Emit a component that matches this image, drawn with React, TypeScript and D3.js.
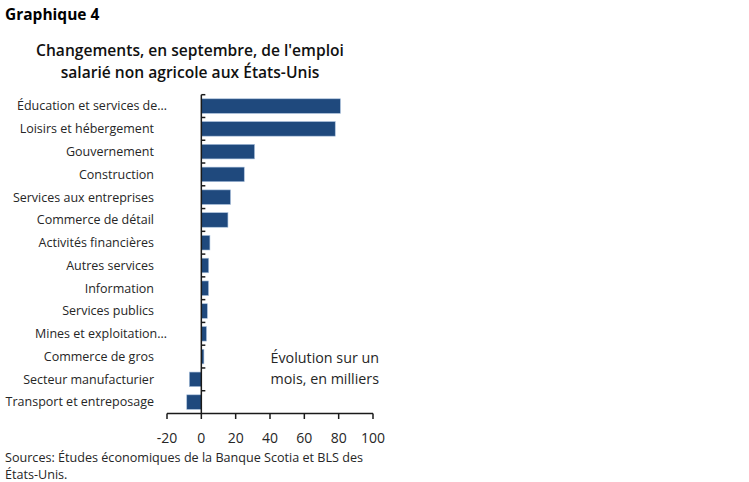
import { useEffect, useRef } from 'react'
import * as d3 from 'd3'

const categories = [
  'Éducation et services de…',
  'Loisirs et hébergement',
  'Gouvernement',
  'Construction',
  'Services aux entreprises',
  'Commerce de détail',
  'Activités financières',
  'Autres services',
  'Information',
  'Services publics',
  'Mines et exploitation…',
  'Commerce de gros',
  'Secteur manufacturier',
  'Transport et entreposage',
]

// monthly change, thousands
const values = [81, 78, 31, 25, 17, 15.5, 5, 4.3, 4.2, 3.5, 3, 1.5, -7, -8.5]

const xTicks = [-20, 0, 20, 40, 60, 80, 100]

const titleLines = ["Changements, en septembre, de l'emploi", 'salarié non agricole aux États-Unis']
const noteLines = ['Évolution sur un', 'mois, en milliers']
const sourceLines = ['Sources: Études économiques de la Banque Scotia et BLS des', 'États-Unis.']

const FONT = '"Open Sans", "Noto Sans", sans-serif'
const BAR = '#1f497d'
const TEXT = '#262626'

export default function App() {
  const svgRef = useRef<SVGSVGElement | null>(null)

  useEffect(() => {
    const svgEl = svgRef.current
    if (!svgEl) return
    const svg = d3.select(svgEl)
    svg.selectAll('*').remove()

    const x = d3.scaleLinear().domain([-20, 100]).range([167, 373])
    const y = d3.scaleBand<string>().domain(categories).range([94.7, 413.5]).paddingInner(0.36).paddingOuter(0.18)

    // header
    svg
      .append('text')
      .attr('x', 5)
      .attr('y', 20)
      .attr('font-family', FONT)
      .attr('font-weight', 700)
      .attr('font-size', 15.5)
      .attr('fill', '#000')
      .text('Graphique 4')

    svg
      .append('g')
      .selectAll('text')
      .data(titleLines)
      .enter()
      .append('text')
      .attr('x', 190)
      .attr('y', (_, i) => 56 + i * 22)
      .attr('text-anchor', 'middle')
      .attr('font-family', FONT)
      .attr('font-weight', 600)
      .attr('font-size', 15.6)
      .attr('fill', '#111')
      .text((d) => d)

    // bars
    svg
      .append('g')
      .selectAll('rect')
      .data(values)
      .enter()
      .append('rect')
      .attr('x', (d) => x(Math.min(0, d)))
      .attr('y', (_, i) => y(categories[i]) ?? 0)
      .attr('width', (d) => Math.abs(x(d) - x(0)))
      .attr('height', y.bandwidth())
      .attr('fill', BAR)
      .attr('stroke', '#a9c0dc')
      .attr('stroke-width', 0.6)

    // category axis
    const yAxis = svg.append('g')
    yAxis
      .append('line')
      .attr('x1', x(0))
      .attr('x2', x(0))
      .attr('y1', 94.7)
      .attr('y2', 413.5)
      .attr('stroke', '#1a1a1a')
      .attr('stroke-width', 1.5)
    const step = y.step()
    yAxis
      .selectAll('line.tick')
      .data(d3.range(categories.length))
      .enter()
      .append('line')
      .attr('class', 'tick')
      .attr('x1', x(0))
      .attr('x2', x(0) + 4)
      .attr('y1', (i) => 94.7 + i * step)
      .attr('y2', (i) => 94.7 + i * step)
      .attr('stroke', '#1a1a1a')
      .attr('stroke-width', 1.5)

    yAxis
      .selectAll('text')
      .data(categories)
      .enter()
      .append('text')
      .attr('x', (d) => (d.endsWith('…') ? 167 : 154))
      .attr('y', (d) => (y(d) ?? 0) + y.bandwidth() / 2)
      .attr('dy', '0.35em')
      .attr('text-anchor', 'end')
      .attr('font-family', FONT)
      .attr('font-size', 12.5)
      .attr('fill', TEXT)
      .text((d) => d)

    // value axis
    const xAxis = svg.append('g')
    xAxis
      .append('line')
      .attr('x1', x(-20))
      .attr('x2', x(100))
      .attr('y1', 413.5)
      .attr('y2', 413.5)
      .attr('stroke', '#1a1a1a')
      .attr('stroke-width', 1.5)
    xAxis
      .selectAll('line.tick')
      .data(xTicks)
      .enter()
      .append('line')
      .attr('class', 'tick')
      .attr('x1', (d) => x(d))
      .attr('x2', (d) => x(d))
      .attr('y1', 413.5)
      .attr('y2', 419)
      .attr('stroke', '#1a1a1a')
      .attr('stroke-width', 1.5)
    xAxis
      .selectAll('text')
      .data(xTicks)
      .enter()
      .append('text')
      .attr('x', (d) => x(d))
      .attr('y', 443)
      .attr('text-anchor', 'middle')
      .attr('font-family', FONT)
      .attr('font-size', 14)
      .attr('fill', TEXT)
      .text((d) => String(d))

    // note
    svg
      .append('g')
      .selectAll('text')
      .data(noteLines)
      .enter()
      .append('text')
      .attr('x', 379)
      .attr('y', (_, i) => 363 + i * 21)
      .attr('text-anchor', 'end')
      .attr('font-family', FONT)
      .attr('font-size', 14.3)
      .attr('fill', TEXT)
      .text((d) => d)

    // sources
    svg
      .append('g')
      .selectAll('text')
      .data(sourceLines)
      .enter()
      .append('text')
      .attr('x', 5)
      .attr('y', (_, i) => 462 + i * 17)
      .attr('font-family', FONT)
      .attr('font-size', 12.6)
      .attr('fill', TEXT)
      .text((d) => d)
  }, [])

  return (
    <>
      <style>{'body{margin:0;background:#fff}'}</style>
      <svg ref={svgRef} width={749} height={482} style={{ display: 'block' }} />
    </>
  )
}
